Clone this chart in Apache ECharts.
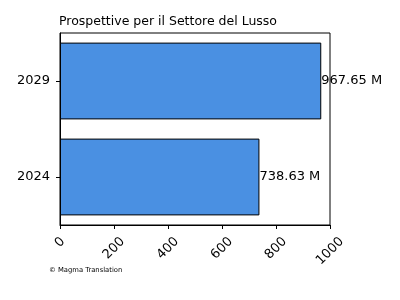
<!DOCTYPE html>
<html><head><meta charset="utf-8">
<script src="https://cdn.jsdelivr.net/npm/echarts@6/dist/echarts.min.js"></script>
<style>html,body{margin:0;padding:0;background:#fff}#c{width:400px;height:300px}</style>
</head><body><div id="c"></div>
<script>
const categories = ['2024', '2029'];
const values = [738.63, 967.65];
const xTicks = [0, 200, 400, 600, 800, 1000];
const titleText = 'Prospettive per il Settore del Lusso';
const footerText = '© Magma Translation';

const font = 'DejaVu Sans';
const FS = 13;
// per-label rich padding so rotated labels hang below tick like matplotlib (center-aligned bbox)
const baseW = String(xTicks[0]).length * 0.636 * FS;
const rich = {};
xTicks.forEach((t, i) => {
  const w = String(t).length * 0.636 * FS;
  const p = 0.5 * (w - baseW);
  rich['t' + i] = {fontFamily: font, fontSize: FS, color: '#000', padding: [p, p, 0, 0]};
});

const chart = echarts.init(document.getElementById('c'), null, {renderer: 'canvas'});
chart.setOption({
  animation: false,
  backgroundColor: '#fff',
  title: [
    {text: titleText, left: 59, top: 15, padding: 0, textStyle: {fontFamily: font, fontSize: 12.5, fontWeight: 'normal', color: '#000'}},
    {text: footerText, left: 49, top: 267, padding: 0, textStyle: {fontFamily: font, fontSize: 6.8, fontWeight: 'normal', color: '#000'}}
  ],
  grid: {left: 60, right: 70, top: 33, bottom: 75, show: true, borderColor: '#000', borderWidth: 1, backgroundColor: 'transparent'},
  xAxis: {
    type: 'value', min: xTicks[0], max: xTicks[xTicks.length - 1], interval: 200,
    splitLine: {show: false},
    axisLine: {show: true, lineStyle: {color: '#000', width: 1}},
    axisTick: {show: true, length: 4, lineStyle: {color: '#000'}},
    axisLabel: {fontFamily: font, fontSize: FS, color: '#000', rotate: 45, align: 'center', verticalAlign: 'middle', margin: 17.5,
      formatter: v => '{t' + xTicks.indexOf(v) + '|' + v + '}', rich: rich}
  },
  yAxis: {
    type: 'category', data: categories,
    axisLine: {show: true, lineStyle: {color: '#000', width: 1}},
    axisTick: {show: true, length: 4, alignWithLabel: true, lineStyle: {color: '#000'}},
    axisLabel: {fontFamily: font, fontSize: FS, color: '#000', margin: 10}
  },
  series: [{
    type: 'bar', data: values, barCategoryGap: '20%',
    itemStyle: {color: '#4a90e2', borderColor: '#000', borderWidth: 1},
    label: {show: true, position: 'right', distance: 0, fontFamily: font, fontSize: FS, color: '#000',
      formatter: p => p.value.toFixed(2) + ' M'}
  }]
});
</script></body></html>
